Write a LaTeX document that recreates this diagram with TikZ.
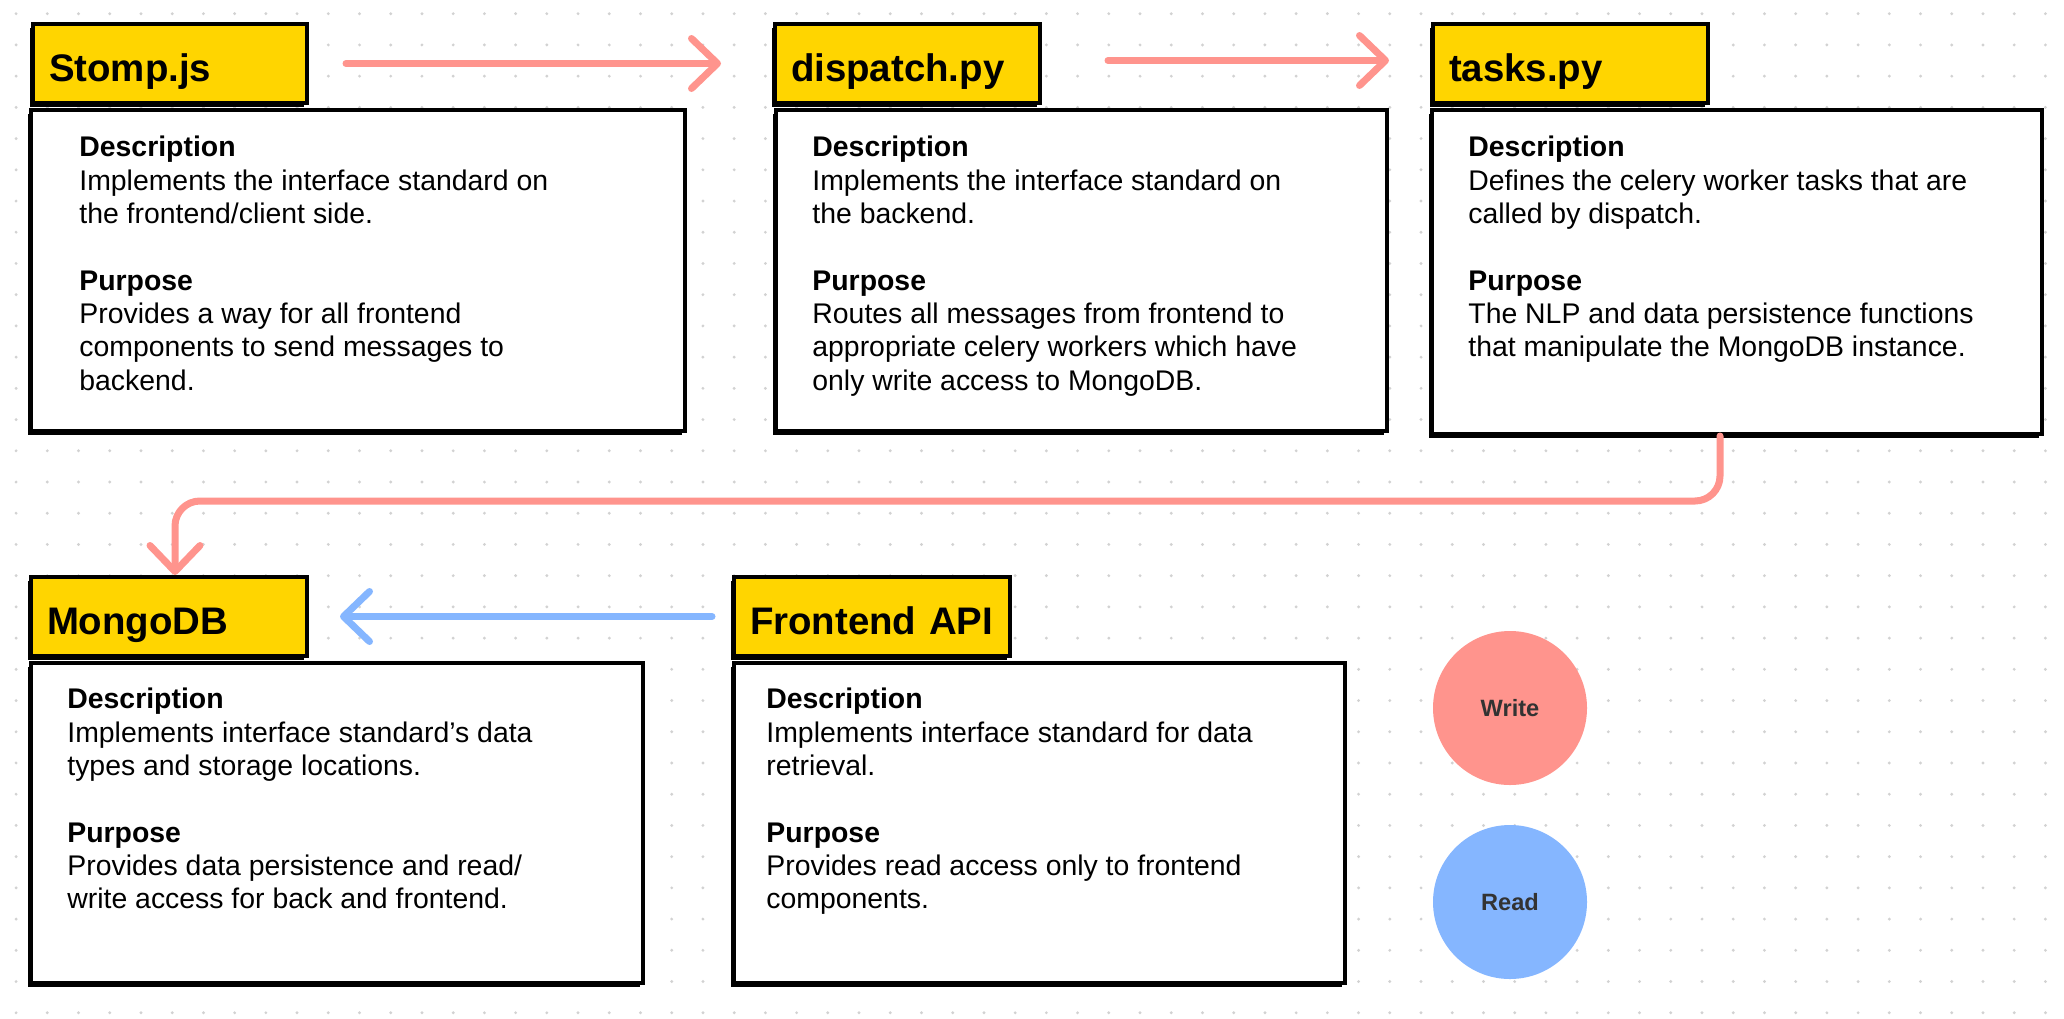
\documentclass[tikz,border=0pt]{standalone}
\usepackage{fontspec}
\setmainfont{Liberation Sans}
\usetikzlibrary{arrows.meta,shadows,positioning}

\definecolor{titleyellow}{HTML}{FFD500}
\definecolor{writepink}{HTML}{FF948D}
\definecolor{readblue}{HTML}{85B6FF}
\definecolor{griddot}{HTML}{D2D2D2}
\definecolor{labelgrey}{HTML}{333333}

\newcommand{\boxtext}[2]{\textbf{Description}\\#1\\[16.65pt]\textbf{Purpose}\\#2}

\tikzset{
  shade box/.style={draw=black, line width=2pt, anchor=north west, inner sep=0pt,
    drop shadow={shadow xshift=-1.75pt, shadow yshift=-2pt, fill=black, opacity=1}},
  titlebox/.style={shade box, fill=titleyellow, minimum height=39.5pt, text width=#1,
    text height=17.8pt, text depth=0pt, inner xsep=8pt, align=left,
    font=\fontsize{19.2}{23}\selectfont\bfseries},
  descbox/.style={shade box, fill=white},
  desctext/.style={anchor=north west, inner sep=0pt, align=left,
    font=\fontsize{14.2}{16.65}\selectfont},
  writearrow/.style={draw=writepink, line width=3.5pt, line cap=round,
    -{Straight Barb[length=13pt,width=25pt,line cap=round,line join=round]}},
  readarrow/.style={writearrow, draw=readblue},
  keycircle/.style={circle, minimum size=77pt, inner sep=0pt, text=labelgrey,
    font=\fontsize{11.8}{14}\selectfont\bfseries}
}

\begin{document}
\begin{tikzpicture}[x=0.5pt,y=-0.5pt]
    \fill[white] (0,0) rectangle (2064,1018);
    \useasboundingbox (0,0) rectangle (2064,1018);

    \foreach \i in {0,...,65}
        \foreach \j in {0,...,32}
            \fill[griddot] (16.1+31.22*\i,13.7+31.22*\j) circle (0.8pt);

    \node[descbox, minimum width=327pt, minimum height=160.5pt] (stompdesc) at (29,108) {};
    \node[titlebox=121pt] (stomp) at (31,22) {Stomp.js};
    \node[desctext] (stomptext) at ([xshift=25pt,yshift=-14pt]stompdesc.north west)
        {\boxtext{Implements the interface standard on\\the frontend/client side.}
                 {Provides a way for all frontend\\components to send messages to\\backend.}};

    \node[descbox, minimum width=305.5pt, minimum height=160.5pt] (dispatchdesc) at (774,108) {};
    \node[titlebox=116.5pt] (dispatch) at (773,22) {dispatch.py};
    \node[desctext] (dispatchtext) at ([xshift=19pt,yshift=-14pt]dispatchdesc.north west)
        {\boxtext{Implements the interface standard on\\the backend.}
                 {Routes all messages from frontend to\\appropriate celery workers which have\\only write access to MongoDB.}};

    \node[descbox, minimum width=305pt, minimum height=162pt] (tasksdesc) at (1430,108) {};
    \node[titlebox=121.5pt] (tasks) at (1431,22) {tasks.py};
    \node[desctext] (taskstext) at ([xshift=19pt,yshift=-14pt]tasksdesc.north west)
        {\boxtext{Defines the celery worker tasks that are\\called by dispatch.}
                 {The NLP and data persistence functions\\that manipulate the MongoDB instance.}};

    \node[descbox, minimum width=306pt, minimum height=160pt] (mongodesc) at (29,661) {};
    \node[titlebox=122pt] (mongo) at (29,575) {MongoDB};
    \node[desctext] (mongotext) at ([xshift=19pt,yshift=-13.5pt]mongodesc.north west)
        {\boxtext{Implements interface standard’s data\\types and storage locations.}
                 {Provides data persistence and read/\\write access for back and frontend.}};

    \node[descbox, minimum width=305.5pt, minimum height=160pt] (fapidesc) at (732,661) {};
    \node[titlebox=122pt] (fapi) at (732,575) {Frontend API};
    \node[desctext] (fapitext) at ([xshift=17pt,yshift=-13.5pt]fapidesc.north west)
        {\boxtext{Implements interface standard for data\\retrieval.}
                 {Provides read access only to frontend\\components.}};

    \node[keycircle, fill=writepink] (write) at (1510,708) {Write};
    \node[keycircle, fill=readblue]  (read)  at (1510,902) {Read};

    \draw[writearrow] ([xshift=18.5pt]stomp.east) -- ([xshift=-26pt]dispatch.west);
    \draw[writearrow] ([xshift=33pt,yshift=1.5pt]dispatch.east) -- ([xshift=-21pt,yshift=1.5pt]tasks.west);
    \draw[writearrow, rounded corners=12.5pt] ([xshift=-8.5pt]tasksdesc.south) -- ++(0,65) -| ([xshift=3pt]mongo.north);
    \draw[readarrow] ([xshift=-10pt]fapi.west) -- ([xshift=15.5pt]mongo.east);
\end{tikzpicture}
\end{document}
